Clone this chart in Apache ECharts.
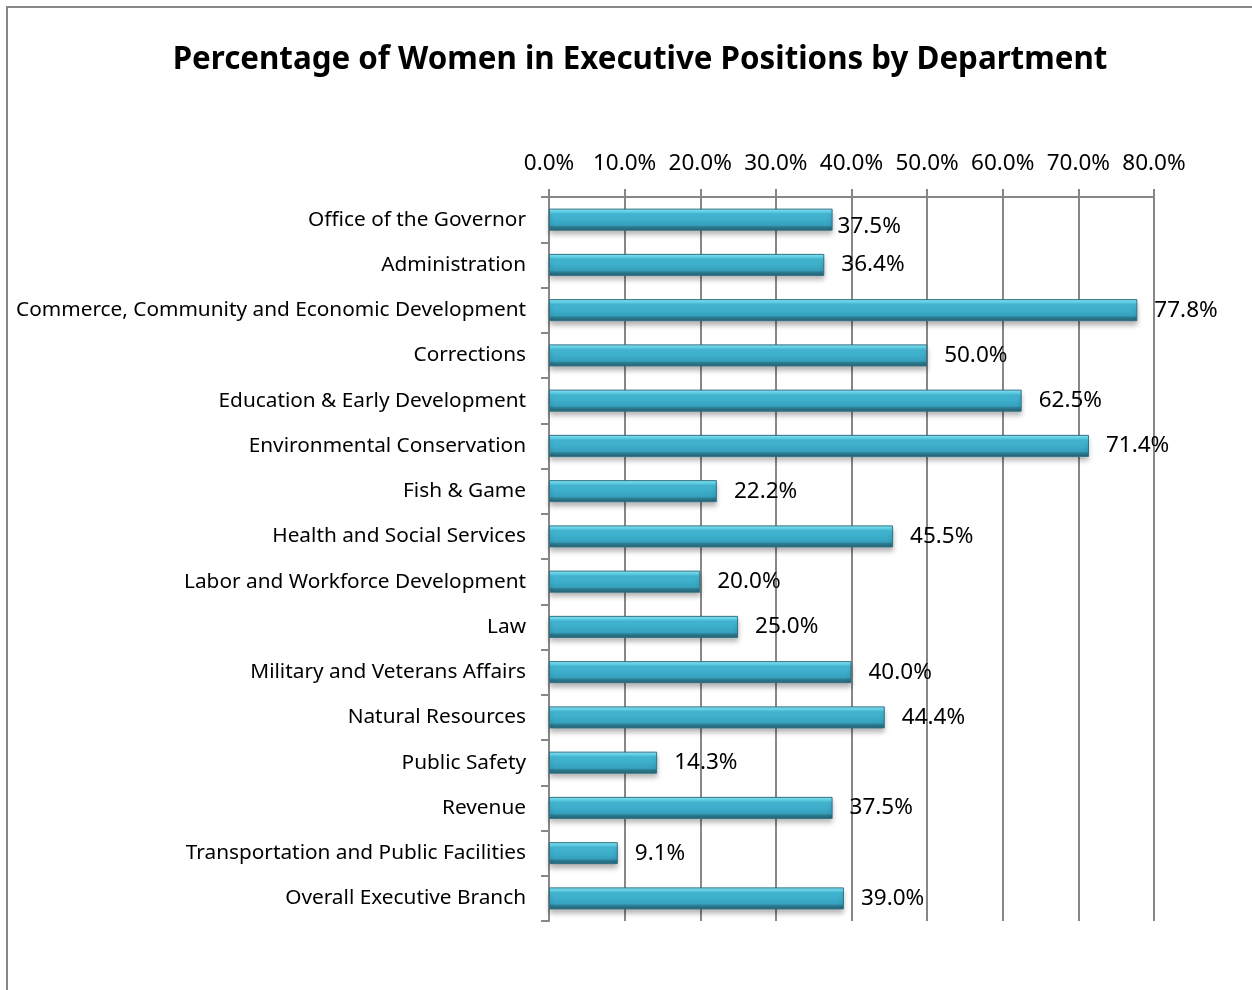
<!DOCTYPE html>
<html>
<head>
<meta charset="utf-8">
<script src="https://cdn.jsdelivr.net/npm/echarts@6/dist/echarts.min.js"></script>
<style>
    html, body { margin: 0; padding: 0; background: #fff; }
    #chart { width: 1252px; height: 990px; }
</style>
</head>
<body>
<div id="chart"></div>
<script>
    var departments = [
        'Office of the Governor',
        'Administration',
        'Commerce, Community and Economic Development',
        'Corrections',
        'Education & Early Development',
        'Environmental Conservation',
        'Fish & Game',
        'Health and Social Services',
        'Labor and Workforce Development',
        'Law',
        'Military and Veterans Affairs',
        'Natural Resources',
        'Public Safety',
        'Revenue',
        'Transportation and Public Facilities',
        'Overall Executive Branch'
    ];
    var percentWomen = [37.5, 36.4, 77.8, 50.0, 62.5, 71.4, 22.2, 45.5, 20.0, 25.0, 40.0, 44.4, 14.3, 37.5, 9.1, 39.0];
    var axisMin = 0, axisMax = 80, axisStep = 10;

    var font = 'Noto Sans';
    var gray = '#878787';

    // excel puts the first label a bit lower / closer to the bar
    var barData = percentWomen.map(function (v, i) {
        if (i === 0) return { value: v, label: { distance: 5, offset: [0, 7] } };
        return v;
    });

    var chart = echarts.init(document.getElementById('chart'));
    chart.setOption({
        animation: false,
        backgroundColor: '#fff',
        title: {
            text: 'Percentage of Women in Executive Positions by Department',
            left: 635,
            textAlign: 'center',
            top: 40,
            textStyle: { fontFamily: font, fontSize: 31.3, fontWeight: 'bold', color: '#000' }
        },
        graphic: [{
            type: 'rect',
            shape: { x: 7, y: 7, width: 1260, height: 1000 },
            style: { fill: 'none', stroke: gray, lineWidth: 2 },
            silent: true
        }],
        grid: { left: 549, right: 98, top: 197, bottom: 69, containLabel: false },
        xAxis: {
            type: 'value',
            position: 'top',
            min: axisMin,
            max: axisMax,
            interval: axisStep,
            axisLine: { show: true, lineStyle: { color: gray, width: 2 } },
            axisTick: { show: true, length: 8, lineStyle: { color: gray, width: 2 } },
            splitLine: { show: true, lineStyle: { color: gray, width: 2 } },
            axisLabel: {
                margin: 22,
                fontFamily: font, fontSize: 22.5, color: '#000',
                formatter: function (v) { return v.toFixed(1) + '%'; }
            }
        },
        yAxis: {
            type: 'category',
            inverse: true,
            data: departments,
            axisLine: { show: true, lineStyle: { color: gray, width: 2 } },
            axisTick: { show: true, length: 8, lineStyle: { color: gray, width: 2 } },
            axisLabel: { margin: 23, fontFamily: font, fontSize: 20.8, color: '#000' }
        },
        series: [{
            type: 'bar',
            data: barData,
            barWidth: 22,
            itemStyle: {
                color: new echarts.graphic.LinearGradient(0, 0, 0, 1, [
                    { offset: 0, color: '#8be8f8' },
                    { offset: 0.15, color: '#62d4ec' },
                    { offset: 0.24, color: '#45bcd8' },
                    { offset: 0.6, color: '#3aa9c6' },
                    { offset: 0.76, color: '#35a0bc' },
                    { offset: 0.82, color: '#2e7f95' },
                    { offset: 1, color: '#225f70' }
                ]),
                borderColor: '#2f7385',
                borderWidth: 1,
                shadowBlur: 5,
                shadowOffsetY: 4,
                shadowColor: 'rgba(0,0,0,0.3)'
            },
            label: {
                show: true,
                position: 'right',
                distance: 17,
                fontFamily: font, fontSize: 22.5, color: '#000',
                formatter: function (p) { return p.value.toFixed(1) + '%'; }
            }
        }]
    });
</script>
</body>
</html>
